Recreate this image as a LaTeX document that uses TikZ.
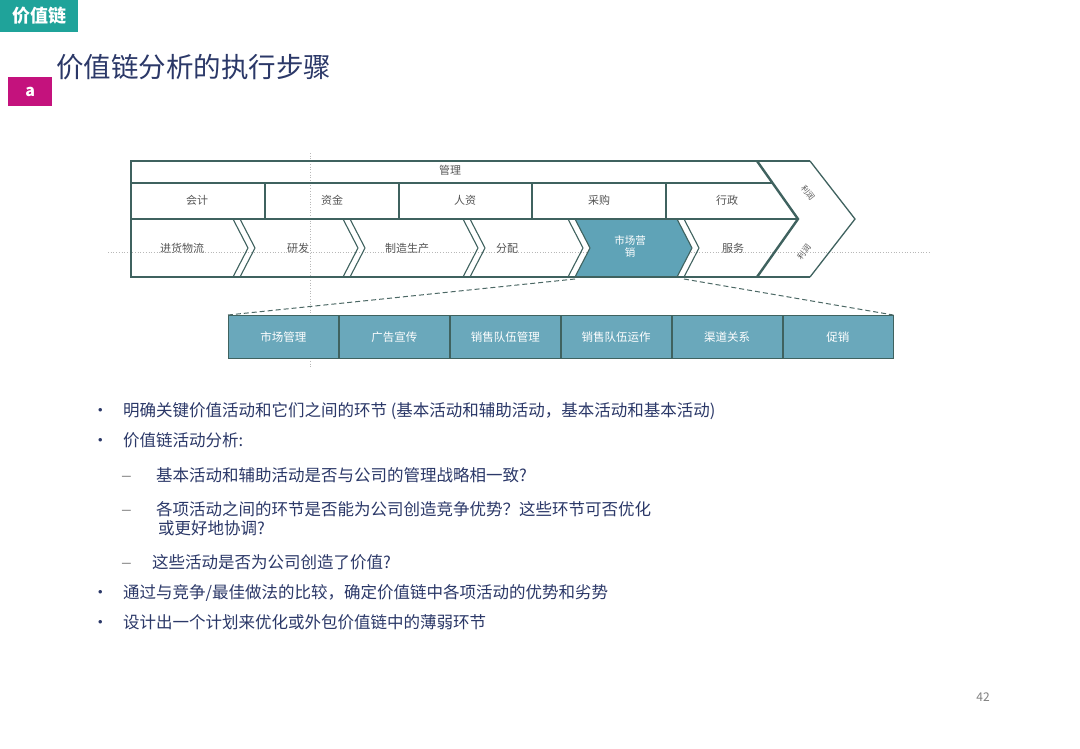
\documentclass[tikz,border=0pt]{standalone}
\usepackage{fontspec}
\setmainfont{Noto Sans CJK SC}
\definecolor{tagteal}{HTML}{1FA39A}
\definecolor{tagmag}{HTML}{C4127D}
\definecolor{navy}{HTML}{2B3868}
\definecolor{frame}{HTML}{3F625F}
\definecolor{mkfill}{HTML}{5FA3B7}
\definecolor{barfill}{HTML}{6AA8BB}
\definecolor{cell}{HTML}{555555}
\definecolor{guide}{HTML}{B8B8B8}
\tikzset{
  fr/.style={draw=frame, line width=1.3pt},
  frthick/.style={draw=frame, line width=2.4pt},
  celltext/.style={text=cell, font=\fontsize{11}{13}\selectfont},
  bartext/.style={text=white, font=\fontsize{11.5}{13}\selectfont},
  barbox/.style={draw=frame, line width=0.9pt, fill=barfill, minimum width=110pt, minimum height=43pt, inner sep=0pt},
  bul/.style={text=navy, anchor=base west, inner sep=0pt, font=\fontsize{16.5}{19}\selectfont},
  dashmark/.style={text=gray!80, anchor=base west, inner sep=0pt, font=\fontsize{20}{22}\selectfont},
  guideline/.style={draw=guide, dotted, line width=0.7pt},
  zoomline/.style={draw=frame!80!gray, dashed, dash pattern=on 5pt off 3pt, line width=1pt}
}
\begin{document}
\begin{tikzpicture}[x=1pt,y=-1pt]
\useasboundingbox[fill=white] (0,0) rectangle (1080,748);

% header tags
\node[fill=tagteal, minimum width=78pt, minimum height=32pt, anchor=north west, inner sep=0pt,
      text=white, font=\fontsize{18}{20}\selectfont\bfseries] (tag) at (0,0) {价值链};
\node[fill=tagmag, minimum width=44pt, minimum height=29pt, anchor=north west, inner sep=0pt,
      text=white, font=\fontsize{16}{18}\selectfont\bfseries] (tagA) at (8,77) {a};
\node[anchor=west, inner sep=0pt, text=navy, font=\fontsize{27.5}{30}\selectfont] (title) at (56,67) {价值链分析的执行步骤};

% guide lines
\draw[guideline] (310,153) -- (310,368);
\draw[guideline] (108,252) -- (930,252);

% marketing filled chevron
\fill[mkfill] (575,219) -- (677,219) -- (692,248) -- (677,277) -- (575,277) -- (590,248) -- cycle;

% value chain frame
\draw[fr] (131,161) -- (810,161);
\draw[fr] (131,183) -- (773,183);
\draw[fr] (131,219) -- (798,219);
\draw[fr] (131,277) -- (810,277);
\draw[frthick] (131,160) -- (131,278);
\draw[frthick] (757,161) -- (798,219) -- (757,277);
\draw[fr] (810,161) -- (855,219) -- (810,277);
\foreach \x in {265,399,532,666} \draw[fr] (\x,183) -- (\x,219);
\foreach \a in {233,343,463,568,677} {
  \draw[fr, line width=1.1pt] (\a,219) -- (\a+15,248) -- (\a,277);
  \draw[fr, line width=1.1pt] (\a+7,219) -- (\a+22,248) -- (\a+7,277);
}

% texts of the chain
\node[celltext] (mgmt) at (450,170) {管理};
\node[celltext] (s1) at (197,200) {会计};
\node[celltext] (s2) at (332,200) {资金};
\node[celltext] (s3) at (465,200) {人资};
\node[celltext] (s4) at (599,200) {采购};
\node[celltext] (s5) at (727,200) {行政};
\node[celltext] (p1) at (182,248) {进货物流};
\node[celltext] (p2) at (298,248) {研发};
\node[celltext] (p3) at (407,248) {制造生产};
\node[celltext] (p4) at (507,248) {分配};
\node[text=white, font=\fontsize{10.5}{12}\selectfont, align=center, inner sep=0pt] (p5) at (630,246) {市场营\\销};
\node[celltext] (p6) at (733,248) {服务};
\node[text=cell, inner sep=0pt, font=\fontsize{8}{9}\selectfont, rotate=-52] (m1) at (808,193) {利润};
\node[text=cell, inner sep=0pt, font=\fontsize{8}{9}\selectfont, rotate=52] (m2) at (804,252) {利润};

% lower bar
\node[barbox, anchor=north west] (b1) at (228,315) {};
\node[barbox, anchor=west] (b2) at (b1.east) {};
\node[barbox, anchor=west] (b3) at (b2.east) {};
\node[barbox, anchor=west] (b4) at (b3.east) {};
\node[barbox, anchor=west] (b5) at (b4.east) {};
\node[barbox, anchor=west] (b6) at (b5.east) {};
\node[bartext] at (b1) {市场管理};
\node[bartext] at (b2) {广告宣传};
\node[bartext] at (b3) {销售队伍管理};
\node[bartext] at (b4) {销售队伍运作};
\node[bartext] at (b5) {渠道关系};
\node[bartext] at (b6) {促销};

\coordinate (mkL) at (575,279);
\coordinate (mkR) at (684,279);
\draw[zoomline] (mkL) -- (b1.north west);
\draw[zoomline] (mkR) -- (b6.north east);

% bullets (baselines)
\node[bul] (d1) at (92,416) {•};
\node[bul] (t1) at (123,416) {明确关键价值活动和它们之间的环节 (基本活动和辅助活动，基本活动和基本活动)};
\node[bul] (d2) at (92,446) {•};
\node[bul] (t2) at (123,446) {价值链活动分析:};
\node[dashmark] (d3) at (121,482) {–};
\node[bul] (t3) at (156,481) {基本活动和辅助活动是否与公司的管理战略相一致?};
\node[dashmark] (d4) at (121,516) {–};
\node[bul] (t4) at (156,515) {各项活动之间的环节是否能为公司创造竞争优势？这些环节可否优化};
\node[bul] (t4b) at (158,534) {或更好地协调?};
\node[dashmark] (d5) at (121,569) {–};
\node[bul] (t5) at (152,568) {这些活动是否为公司创造了价值?};
\node[bul] (d6) at (92,598) {•};
\node[bul] (t6) at (123,598) {通过与竞争/最佳做法的比较，确定价值链中各项活动的优势和劣势};
\node[bul] (d7) at (92,628) {•};
\node[bul] (t7) at (123,628) {设计出一个计划来优化或外包价值链中的薄弱环节};

% page number
\node[text=gray, font=\fontsize{12}{14}\selectfont] (pg) at (983,697) {42};
\end{tikzpicture}
\end{document}
